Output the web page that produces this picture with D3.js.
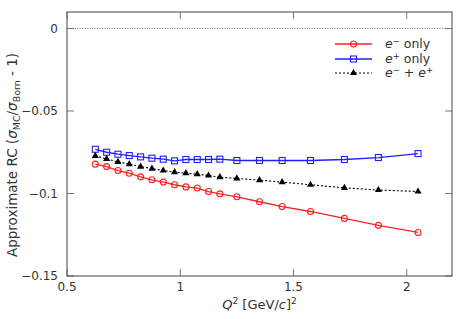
<!DOCTYPE html>
<html>
<head>
  <meta charset="utf-8">
  <script src="https://cdn.jsdelivr.net/npm/d3@7"></script>
  <style>
    body { margin: 0; background: #fff; }
    text { font-family: "DejaVu Sans", sans-serif; fill: #333; }
  </style>
</head>
<body>
<svg width="474" height="319"></svg>
<script>
  // Q^2 values (GeV/c)^2
  var q2 = [0.625, 0.675, 0.725, 0.775, 0.825, 0.875, 0.925, 0.975, 1.025, 1.075,
            1.125, 1.175, 1.25, 1.35, 1.45, 1.575, 1.725, 1.875, 2.05];
  var eMinus = [-0.0822, -0.0837, -0.0861, -0.0877, -0.0899, -0.0917, -0.0931, -0.0947, -0.0960, -0.0967,
                -0.0988, -0.1002, -0.1020, -0.1050, -0.1079, -0.1109, -0.1151, -0.1193, -0.1236];
  var ePlus = [-0.0732, -0.0750, -0.0762, -0.0770, -0.0778, -0.0786, -0.0792, -0.0802, -0.0794, -0.0794,
               -0.0794, -0.0792, -0.0800, -0.0800, -0.0800, -0.0800, -0.0794, -0.0782, -0.0758];
  var eBoth = [-0.0772, -0.0790, -0.0808, -0.0822, -0.0837, -0.0849, -0.0861, -0.0871, -0.0877, -0.0883,
               -0.0891, -0.0901, -0.0909, -0.0919, -0.0931, -0.0947, -0.0966, -0.0979, -0.0988];
  var xTicks = [0.5, 1, 1.5, 2];
  var yTicks = [0, -0.05, -0.1, -0.15];

  // plot box (note: "top" is a reserved window global, so use pTop etc.)
  var pLeft = 67, pRight = 452, pTop = 12, pBottom = 276;
  var svg = d3.select("svg");

  var x = d3.scaleLinear().domain([0.5, 2.2]).range([pLeft, pRight]);
  var y = d3.scaleLinear().domain([-0.15, 0.01]).range([pBottom, pTop]);

  // zero line
  svg.append("line")
      .attr("x1", pLeft).attr("x2", pRight)
      .attr("y1", y(0)).attr("y2", y(0))
      .attr("stroke", "#555").attr("stroke-width", 0.8)
      .attr("stroke-dasharray", "1,1.5");

  // ticks on all four sides, pointing inwards
  var tk = 7;
  xTicks.forEach(function (t) {
    svg.append("line").attr("x1", x(t)).attr("x2", x(t)).attr("y1", pBottom).attr("y2", pBottom - tk)
        .attr("stroke", "#777");
    svg.append("line").attr("x1", x(t)).attr("x2", x(t)).attr("y1", pTop).attr("y2", pTop + tk)
        .attr("stroke", "#777");
    svg.append("text").attr("x", x(t)).attr("y", pBottom + 15)
        .attr("text-anchor", "middle").attr("font-size", 12)
        .text(String(t));
  });
  yTicks.forEach(function (t) {
    svg.append("line").attr("x1", pLeft).attr("x2", pLeft + tk).attr("y1", y(t)).attr("y2", y(t))
        .attr("stroke", "#777");
    svg.append("line").attr("x1", pRight).attr("x2", pRight - tk).attr("y1", y(t)).attr("y2", y(t))
        .attr("stroke", "#777");
    svg.append("text").attr("x", pLeft - 9).attr("y", y(t) + 4)
        .attr("text-anchor", "end").attr("font-size", 12)
        .text(t === 0 ? "0" : "\u2212" + String(-t));
  });

  // frame
  svg.append("rect")
      .attr("x", pLeft).attr("y", pTop)
      .attr("width", pRight - pLeft).attr("height", pBottom - pTop)
      .attr("fill", "none").attr("stroke", "#444").attr("stroke-width", 1);

  var series = [
    { values: eMinus, color: "#ff2020", dash: null, marker: "circle" },
    { values: ePlus, color: "#2020ff", dash: null, marker: "square" },
    { values: eBoth, color: "#000", dash: "2,2", marker: "triangle" }
  ];

  var line = d3.line()
      .x(function (d) { return x(d[0]); })
      .y(function (d) { return y(d[1]); });

  function drawMarker(g, type, color, cx, cy) {
    if (type === "circle") {
      g.append("circle").attr("cx", cx).attr("cy", cy).attr("r", 3)
          .attr("fill", "none").attr("stroke", color).attr("stroke-width", 1.1);
    } else if (type === "square") {
      g.append("rect").attr("x", cx - 3).attr("y", cy - 3).attr("width", 6).attr("height", 6)
          .attr("fill", "none").attr("stroke", color).attr("stroke-width", 1.1);
    } else {
      g.append("path")
          .attr("d", d3.symbol().type(d3.symbolTriangle).size(22)())
          .attr("transform", "translate(" + cx + "," + cy + ")")
          .attr("fill", color);
    }
  }

  series.forEach(function (s) {
    var pts = q2.map(function (q, i) { return [q, s.values[i]]; });
    svg.append("path")
        .attr("d", line(pts))
        .attr("fill", "none")
        .attr("stroke", s.color)
        .attr("stroke-width", s.dash ? 1.1 : 1.3)
        .attr("stroke-dasharray", s.dash);
    var g = svg.append("g");
    pts.forEach(function (p) { drawMarker(g, s.marker, s.color, x(p[0]), y(p[1])); });
  });

  // legend
  var legY = [44, 59, 73];
  var legLabels = [["\u2212", " only"], ["+", " only"], null];
  series.forEach(function (s, i) {
    svg.append("line").attr("x1", 335).attr("x2", 372).attr("y1", legY[i]).attr("y2", legY[i])
        .attr("stroke", s.color).attr("stroke-width", s.dash ? 1.1 : 1.3)
        .attr("stroke-dasharray", s.dash);
    drawMarker(svg, s.marker, s.color, 353.5, legY[i]);
    var t = svg.append("text").attr("x", 385).attr("y", legY[i] + 4).attr("font-size", 12.5);
    t.append("tspan").attr("font-style", "italic").text("e");
    if (legLabels[i]) {
      t.append("tspan").attr("font-size", 8.5).attr("dy", -4).text(legLabels[i][0]);
      t.append("tspan").attr("dy", 4).text(legLabels[i][1]);
    } else {
      t.append("tspan").attr("font-size", 8.5).attr("dy", -4).text("\u2212");
      t.append("tspan").attr("dy", 4).text(" + ");
      t.append("tspan").attr("font-style", "italic").text("e");
      t.append("tspan").attr("font-size", 8.5).attr("dy", -4).text("+");
    }
  });

  // x axis title
  var xt = svg.append("text").attr("x", (pLeft + pRight) / 2).attr("y", 309)
      .attr("text-anchor", "middle").attr("font-size", 13);
  xt.append("tspan").attr("font-style", "italic").text("Q");
  xt.append("tspan").attr("font-size", 9).attr("dy", -5).text("2");
  xt.append("tspan").attr("dy", 5).text(" [GeV/");
  xt.append("tspan").attr("font-style", "italic").text("c");
  xt.append("tspan").text("]");
  xt.append("tspan").attr("font-size", 9).attr("dy", -5).text("2");

  // y axis title
  var yt = svg.append("text")
      .attr("transform", "translate(17,155) rotate(-90)")
      .attr("text-anchor", "middle").attr("font-size", 13.5);
  yt.append("tspan").text("Approximate RC (");
  yt.append("tspan").attr("font-style", "italic").text("\u03c3");
  yt.append("tspan").attr("font-size", 9.5).attr("dy", 3).text("MC");
  yt.append("tspan").attr("dy", -3).text("/");
  yt.append("tspan").attr("font-style", "italic").text("\u03c3");
  yt.append("tspan").attr("font-size", 9.5).attr("dy", 3).text("Born");
  yt.append("tspan").attr("dy", -3).text(" - 1)");
</script>
</body>
</html>
